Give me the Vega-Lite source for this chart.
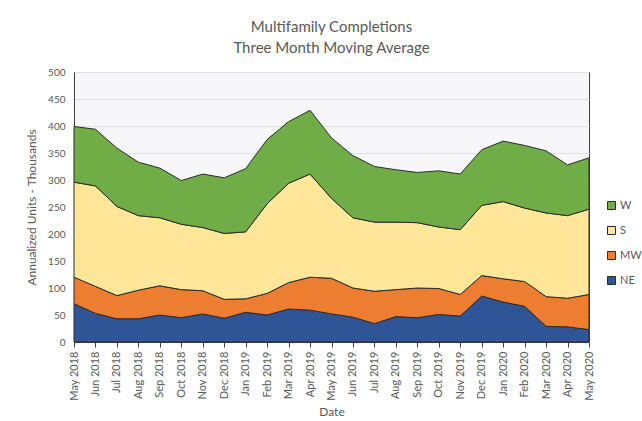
{
  "$schema": "https://vega.github.io/schema/vega-lite/v6.json",
  "width": 515,
  "height": 270,
  "autosize": {"type": "none"},
  "padding": {"left": 74, "top": 72, "right": 53, "bottom": 79},
  "background": "white",
  "title": {
    "text": ["Multifamily Completions", "Three Month Moving Average"],
    "fontSize": 15,
    "font": "Lato",
    "fontWeight": "normal",
    "color": "#595959",
    "anchor": "middle",
    "lineHeight": 21,
    "offset": 11
  },
  "config": {
    "view": {"fill": "#f7f7f9", "stroke": "#404040", "strokeWidth": 1},
    "font": "Lato"
  },
  "datasets": {
    "rows": [
      {"month": "May 2018", "i": 0, "NE": 71, "MW": 49, "S": 176, "W": 103},
      {"month": "Jun 2018", "i": 1, "NE": 53, "MW": 50, "S": 186, "W": 105},
      {"month": "Jul 2018", "i": 2, "NE": 43, "MW": 43, "S": 165, "W": 108},
      {"month": "Aug 2018", "i": 3, "NE": 43, "MW": 53, "S": 138, "W": 99},
      {"month": "Sep 2018", "i": 4, "NE": 50, "MW": 54, "S": 126, "W": 92},
      {"month": "Oct 2018", "i": 5, "NE": 45, "MW": 52, "S": 121, "W": 81},
      {"month": "Nov 2018", "i": 6, "NE": 52, "MW": 43, "S": 117, "W": 99},
      {"month": "Dec 2018", "i": 7, "NE": 44, "MW": 35, "S": 122, "W": 103},
      {"month": "Jan 2019", "i": 8, "NE": 55, "MW": 25, "S": 124, "W": 117},
      {"month": "Feb 2019", "i": 9, "NE": 50, "MW": 40, "S": 166, "W": 119},
      {"month": "Mar 2019", "i": 10, "NE": 61, "MW": 49, "S": 184, "W": 114},
      {"month": "Apr 2019", "i": 11, "NE": 59, "MW": 61, "S": 191, "W": 118},
      {"month": "May 2019", "i": 12, "NE": 52, "MW": 66, "S": 148, "W": 112},
      {"month": "Jun 2019", "i": 13, "NE": 46, "MW": 54, "S": 130, "W": 115},
      {"month": "Jul 2019", "i": 14, "NE": 34, "MW": 60, "S": 128, "W": 103},
      {"month": "Aug 2019", "i": 15, "NE": 47, "MW": 50, "S": 125, "W": 97},
      {"month": "Sep 2019", "i": 16, "NE": 45, "MW": 55, "S": 121, "W": 93},
      {"month": "Oct 2019", "i": 17, "NE": 51, "MW": 48, "S": 114, "W": 104},
      {"month": "Nov 2019", "i": 18, "NE": 48, "MW": 40, "S": 120, "W": 103},
      {"month": "Dec 2019", "i": 19, "NE": 85, "MW": 38, "S": 130, "W": 103},
      {"month": "Jan 2020", "i": 20, "NE": 74, "MW": 43, "S": 143, "W": 112},
      {"month": "Feb 2020", "i": 21, "NE": 66, "MW": 46, "S": 136, "W": 116},
      {"month": "Mar 2020", "i": 22, "NE": 29, "MW": 55, "S": 155, "W": 115},
      {"month": "Apr 2020", "i": 23, "NE": 28, "MW": 53, "S": 153, "W": 94},
      {"month": "May 2020", "i": 24, "NE": 23, "MW": 65, "S": 158, "W": 95}
    ]
  },
  "data": {"name": "rows"},
  "transform": [
    {"fold": ["NE", "MW", "S", "W"], "as": ["region", "units"]},
    {"lookup": "region", "from": {"data": {"values": [
      {"region": "NE", "rank": 1},
      {"region": "MW", "rank": 2},
      {"region": "S", "rank": 3},
      {"region": "W", "rank": 4}
    ]}, "key": "region", "fields": ["rank"]}}
  ],
  "mark": {"type": "area", "stroke": "#2b2b2b", "strokeWidth": 1, "interpolate": "linear"},
  "encoding": {
    "x": {
      "field": "month",
      "type": "ordinal",
      "sort": {"field": "i", "op": "min"},
      "scale": {"type": "point", "padding": 0},
      "axis": {
        "title": "Date",
        "titleFont": "Lato",
        "titleFontSize": 12,
        "titleFontWeight": "normal",
        "titleColor": "#595959",
        "titlePadding": 6,
        "labelAngle": -90,
        "labelFontSize": 11,
        "labelColor": "#595959",
        "labelFont": "Lato",
        "labelPadding": 4,
        "domainColor": "#404040",
        "tickColor": "#404040",
        "tickSize": 5,
        "grid": false
      }
    },
    "y": {
      "field": "units",
      "type": "quantitative",
      "stack": "zero",
      "scale": {"domain": [0, 500], "nice": false},
      "axis": {
        "title": "Annualized Units - Thousands",
        "titleFont": "Lato",
        "titleFontSize": 12,
        "titleFontWeight": "normal",
        "titleColor": "#595959",
        "titlePadding": 9,
        "values": [0, 50, 100, 150, 200, 250, 300, 350, 400, 450, 500],
        "labelFontSize": 10,
        "labelColor": "#595959",
        "labelFont": "Lato",
        "labelPadding": 9,
        "ticks": false,
        "domainColor": "#404040",
        "gridColor": "#dedede"
      }
    },
    "color": {
      "field": "region",
      "type": "nominal",
      "scale": {
        "domain": ["W", "S", "MW", "NE"],
        "range": ["#70AD47", "#FFE699", "#ED7D31", "#2F5597"]
      },
      "legend": {
        "title": null,
        "orient": "none",
        "legendX": 532,
        "legendY": 128,
        "symbolType": "square",
        "symbolSize": 64,
        "symbolStrokeColor": "#2b2b2b",
        "symbolStrokeWidth": 1,
        "labelFontSize": 11,
        "labelColor": "#595959",
        "labelFont": "Lato",
        "labelOffset": 3,
        "rowPadding": 12
      }
    },
    "order": {"field": "rank", "type": "quantitative"}
  }
}
